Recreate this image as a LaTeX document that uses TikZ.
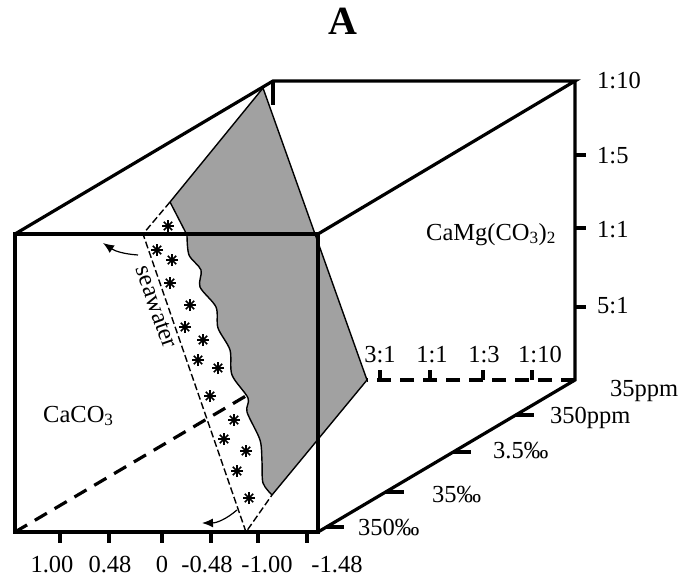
\documentclass[tikz,border=0pt]{standalone}
\usepackage{fontspec}
\setmainfont{Liberation Serif}
\usepackage{tikz}
\usetikzlibrary{arrows.meta,calc}

\begin{document}
\begin{tikzpicture}[x=1pt,y=-1pt,
  edge/.style={line width=3.2pt},
  hidden/.style={line width=3.2pt,dash pattern=on 14pt off 9pt},
  bound/.style={line width=1.4pt},
  band/.style={line width=1.4pt,dash pattern=on 7pt off 3pt},
  astk/.style={line width=1.6pt},
  lbl/.style={font=\fontsize{24.5}{28}\selectfont,inner sep=0pt},
  flow/.style={line width=1.2pt,-{Latex[length=11pt,width=9pt]}}]
  \useasboundingbox (0,0) rectangle (682,578);
  % cube corners
  \coordinate (ftl) at (15,234);
  \coordinate (ftr) at (318,234);
  \coordinate (fbl) at (15,532);
  \coordinate (fbr) at (318,532);
  \coordinate (btl) at (273,81);
  \coordinate (btr) at (575,81);
  \coordinate (bbr) at (575,380);
  \coordinate (bbl) at (273,380);
  % plane
  \coordinate (p1) at (263,88);
  \coordinate (p2) at (367,380);
  \coordinate (p3) at (272,495);
  \coordinate (p4) at (170,202);
  \coordinate (s1) at (143,234);
  \coordinate (s2) at (246,532);

  \fill[black!37] (p4) -- (p1) -- (p2) -- (p3)
    -- plot[smooth] coordinates {(263,483) (262,462) (260,440) (247,412) (248,398)
       (232,375) (230,350) (218,328) (216,307) (200,287) (201,270) (189,255) (187,235)}
    -- cycle;
  \draw[bound] (p4) -- (p1) -- (p2) -- (p3);
  \draw[bound] plot[smooth] coordinates {(272,495) (263,483) (262,462) (260,440) (247,412)
    (248,398) (232,375) (230,350) (218,328) (216,307) (200,287) (201,270) (189,255) (187,235)}
    -- (p4);
  \draw[band] (p4) -- (s1) -- (s2) -- (p3);

  \foreach \p in {(168,226),(157,250),(172,260),(170,283),(190,305),(185,327),(203,340),
      (198,360),(218,368),(210,396),(234,420),(224,439),(246,451),(237,471),(249,498)}
    \foreach \a in {0,45,90,135}
      \draw[astk] \p ++(\a:6) -- ++(\a+180:12);

  % hidden edges
  \draw[hidden] (fbl) -- ($(fbl)!0.9!(bbl)$);
  \draw[hidden] (bbr) -- (p2);

  % visible edges
  \draw[edge] (ftl) rectangle (fbr);
  \draw[edge] (ftl) -- (btl) -- (btr) -- (ftr);
  \draw[edge] (btr) -- (bbr) -- (fbr);
  \draw[edge] (btl) -- ++(0,24);

  % ticks
  \foreach \x in {60,109,162,211,258,307}
    \draw[edge] (\x,532) -- ++(0,11);
  \foreach \x in {380,430,483,532}
    \draw[edge] (\x,380) -- ++(0,-10);
  \foreach \y in {155,228,307}
    \draw[edge] (575,\y) -- ++(11,0);
  \foreach \t in {0.23,0.474,0.737,0.967}
    \draw[edge] ($(bbr)!\t!(fbr)$) -- ++(18,0);

  % labels
  \node[font=\bfseries\fontsize{40}{44}\selectfont,inner sep=0pt,anchor=base] (title) at (343,35) {A};
  \node[lbl,anchor=base] (h1) at (52,572) {1.00};
  \node[lbl,anchor=base] (h2) at (110,572) {0.48};
  \node[lbl,anchor=base] (h3) at (162,572) {0};
  \node[lbl,anchor=base] (h4) at (207,572) {-0.48};
  \node[lbl,anchor=base] (h5) at (267,572) {-1.00};
  \node[lbl,anchor=base] (h6) at (337,572) {-1.48};
  \node[lbl,anchor=base west] (v1) at (597,88) {1:10};
  \node[lbl,anchor=base west] (v2) at (597,163) {1:5};
  \node[lbl,anchor=base west] (v3) at (597,237) {1:1};
  \node[lbl,anchor=base west] (v4) at (597,313) {5:1};
  \node[lbl,anchor=base] (r1) at (380,362) {3:1};
  \node[lbl,anchor=base] (r2) at (432,362) {1:1};
  \node[lbl,anchor=base] (r3) at (484,362) {1:3};
  \node[lbl,anchor=base] (r4) at (540,362) {1:10};
  \node[lbl,anchor=base west] (c1) at (610,396) {35ppm};
  \node[lbl,anchor=base west] (c2) at (550,423) {350ppm};
  \node[lbl,anchor=base west] (c3) at (493,458) {3.5‰};
  \node[lbl,anchor=base west] (c4) at (432,502) {35‰};
  \node[lbl,anchor=base west] (c5) at (358,535) {350‰};
  \node[lbl,anchor=base west] (dolo) at (426,240) {CaMg(CO\textsubscript{3})\textsubscript{2}};
  \node[lbl,anchor=base west] (calc) at (43,422) {CaCO\textsubscript{3}};
  \node[lbl,rotate=-70.6] (sea) at (156,307) {seawater};

  % arrows
  \coordinate (a1) at (138,255);
  \coordinate (a2) at (103,243);
  \coordinate (b1) at (237,510);
  \coordinate (b2) at (202,523);
  \draw[flow] (a1) to[bend left=15] (a2);
  \draw[flow] (b1) to[bend left=20] (b2);
\end{tikzpicture}
\end{document}
